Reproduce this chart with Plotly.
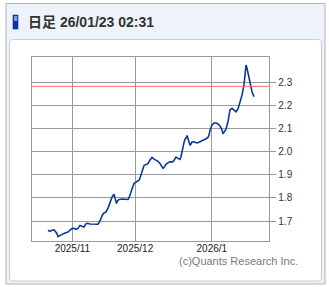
import plotly.graph_objects as go

# ---- data (x = trading-day index from 2025/10/23, y = price) ----
day_idx = [0, 0.57, 1.15, 1.72, 2.01, 2.50, 2.87, 3.24, 4.02, 4.88, 5.74, 6.31, 6.89, 7.46, 8.03,
           8.61, 8.90, 9.18, 9.76, 10.33, 10.90, 11.19, 12.05, 12.63, 13.49, 13.77, 14.35, 14.92,
           15.49, 16.07, 16.64, 17.22, 17.79, 18.36, 18.94, 19.22, 19.66, 19.94, 20.37, 21.23,
           21.81, 22.38, 22.96, 23.24, 23.53, 23.82, 24.10, 24.39, 24.68, 25.25, 25.82, 26.11,
           26.40, 26.69, 26.97, 27.26, 27.55, 28.12, 28.69, 29.27, 29.84, 30.42, 30.99, 31.56,
           32.14, 32.71, 33.00, 33.29, 33.86, 34.43, 35.01, 35.58, 36.15, 36.44, 36.73, 37.30,
           37.88, 38.16, 38.45, 38.74, 39.02, 39.31, 39.60, 39.89, 40.17, 40.46, 40.75, 41.03,
           41.32, 41.89, 42.47, 43.04, 43.62, 44.19, 44.76, 45.34, 45.91, 46.20, 46.48, 47.06,
           47.63, 48.21, 48.78, 49.35, 49.93, 50.22, 50.50, 51.08, 51.65, 51.94, 52.22, 52.80,
           53.37, 53.95, 54.52, 55.09, 55.67, 56.24, 56.53, 56.82, 57.10, 57.39, 57.68, 57.96,
           58.25, 58.54, 58.82, 59.11]
price = [1.660, 1.655, 1.660, 1.662, 1.657, 1.647, 1.632, 1.636, 1.642, 1.648, 1.652, 1.661,
         1.667, 1.668, 1.664, 1.668, 1.673, 1.681, 1.677, 1.674, 1.688, 1.690, 1.687, 1.687,
         1.687, 1.684, 1.686, 1.700, 1.722, 1.735, 1.739, 1.756, 1.782, 1.803, 1.816, 1.803,
         1.776, 1.787, 1.793, 1.795, 1.794, 1.792, 1.793, 1.800, 1.811, 1.826, 1.837, 1.852,
         1.863, 1.868, 1.872, 1.877, 1.886, 1.898, 1.912, 1.929, 1.940, 1.945, 1.948, 1.964,
         1.975, 1.968, 1.964, 1.958, 1.949, 1.938, 1.928, 1.932, 1.945, 1.952, 1.957, 1.955,
         1.961, 1.970, 1.977, 1.971, 1.967, 1.978, 2.002, 2.022, 2.039, 2.054, 2.059, 2.070,
         2.056, 2.042, 2.028, 2.033, 2.042, 2.043, 2.039, 2.039, 2.043, 2.045, 2.051, 2.056,
         2.062, 2.072, 2.092, 2.116, 2.124, 2.124, 2.120, 2.111, 2.094, 2.077, 2.084, 2.098,
         2.130, 2.159, 2.181, 2.188, 2.181, 2.173, 2.185, 2.210, 2.245, 2.289, 2.332, 2.375,
         2.361, 2.339, 2.318, 2.296, 2.274, 2.260, 2.248, 2.238]
ref_level = 2.283

month_ticks = [7, 25, 47]
month_labels = ["2025/11", "2025/12", "2026/1"]
y_ticks = [1.7, 1.8, 1.9, 2.0, 2.1, 2.2, 2.3]
y_labels = ["1.7", "1.8", "1.9", "2.0", "2.1", "2.2", "2.3"]
x_range = [-4.59, 63.5]
y_range = [1.6147, 2.4087]

title_text = "日足 26/01/23 02:31"
credit_text = "(c)Quants Research Inc."

W, H = 329, 287


def px(x):
    return x / W


def py(y):
    return 1 - y / H


fig = go.Figure()
fig.add_trace(go.Scatter(x=day_idx, y=price, mode="lines",
                         line=dict(color="#0b3a96", width=1.6),
                         hoverinfo="skip", showlegend=False))

shapes = []
# outer panel
shapes.append(dict(type="rect", xref="paper", yref="paper",
                   x0=px(6), x1=px(325), y0=py(284), y1=py(3.5),
                   line=dict(color="#b4b4b4", width=1), fillcolor="#eef2fa", layer="below"))
# inner white box with rounded corners
r = 3
x0, x1, y0, y1 = 9.5, 321.5, 39.5, 281
path = (f"M {px(x0 + r)},{py(y0)} L {px(x1 - r)},{py(y0)} Q {px(x1)},{py(y0)} {px(x1)},{py(y0 + r)} "
        f"L {px(x1)},{py(y1 - r)} Q {px(x1)},{py(y1)} {px(x1 - r)},{py(y1)} "
        f"L {px(x0 + r)},{py(y1)} Q {px(x0)},{py(y1)} {px(x0)},{py(y1 - r)} "
        f"L {px(x0)},{py(y0 + r)} Q {px(x0)},{py(y0)} {px(x0 + r)},{py(y0)} Z")
shapes.append(dict(type="path", xref="paper", yref="paper", path=path,
                   line=dict(color="#c6ccd9", width=1), fillcolor="#ffffff", layer="below"))
# header icon
shapes.append(dict(type="rect", xref="paper", yref="paper",
                   x0=px(12.7), x1=px(18.3), y0=py(29.3), y1=py(14.7),
                   line=dict(width=0), fillcolor="#0a35a0", layer="above"))
shapes.append(dict(type="rect", xref="paper", yref="paper",
                   x0=px(14), x1=px(17.3), y0=py(21), y1=py(16),
                   line=dict(width=0), fillcolor="#7f9bd6", layer="above"))
# reference line
shapes.append(dict(type="line", xref="x", yref="y",
                   x0=x_range[0], x1=x_range[1], y0=ref_level, y1=ref_level,
                   line=dict(color="#f56a6a", width=1), layer="above"))

fig.update_layout(
    width=W, height=H,
    margin=dict(l=0, r=0, t=0, b=0),
    paper_bgcolor="#ffffff", plot_bgcolor="rgba(0,0,0,0)",
    shapes=shapes,
    showlegend=False,
    annotations=[
        dict(text="<b>" + title_text + "</b>", xref="paper", yref="paper", x=px(27), y=py(22),
             xanchor="left", yanchor="middle", showarrow=False,
             font=dict(family="Liberation Sans, Noto Sans CJK JP", size=14, color="#333333"),
             borderpad=0),
        dict(text=credit_text, xref="paper", yref="paper", x=px(299), y=py(260.5),
             xanchor="right", yanchor="middle", showarrow=False,
             font=dict(family="Liberation Sans", size=11, color="#7a7a7a"), borderpad=0),
    ],
    xaxis=dict(domain=[px(32), px(269.3)], range=x_range,
               tickvals=month_ticks, ticktext=month_labels,
               showgrid=True, gridcolor="#9a9a9a", gridwidth=1,
               showline=True, mirror=True, linecolor="#9a9a9a", linewidth=1,
               ticks="", zeroline=False, ticklabelstandoff=-2,
               tickfont=dict(family="Liberation Sans", size=10, color="#222222")),
    yaxis=dict(domain=[py(240.7), py(57.3)], range=y_range, side="right",
               tickvals=y_ticks, ticktext=y_labels,
               showgrid=True, gridcolor="#9a9a9a", gridwidth=1,
               showline=True, mirror=True, linecolor="#9a9a9a", linewidth=1,
               ticks="outside", ticklen=6, tickcolor="#9a9a9a", tickwidth=1,
               zeroline=False,
               tickfont=dict(family="Liberation Sans", size=10, color="#333333")),
)

fig.write_html("out.html")
